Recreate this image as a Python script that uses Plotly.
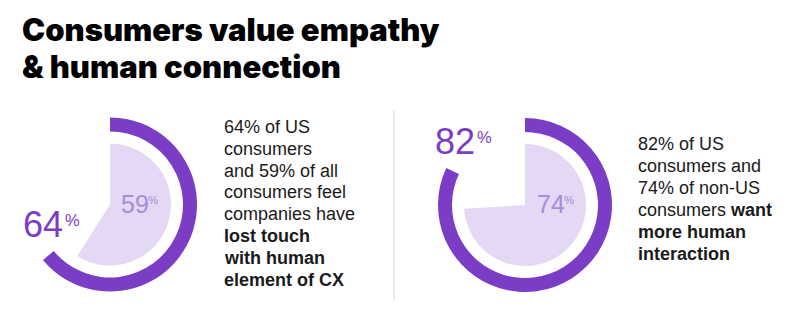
import plotly.graph_objects as go

W, H = 800, 334

title_lines = ["Consumers value empathy", "& human connection"]
outer_values = [64, 82]          # US consumers
inner_values = [59, 74]          # all / non-US consumers
desc_lines = [["64% of US", "consumers", "and 59% of all", "consumers feel", "companies have",
               "<b>lost touch</b>", "<b>with human</b>", "<b>element of CX</b>"],
              ["82% of US", "consumers and", "74% of non-US", "consumers <b>want</b>",
               "<b>more human</b>", "<b>interaction</b>"]]

PURPLE = "#7B3DC6"
LAVENDER = "#E4D8F4"
LIGHT_TXT = "#A98BDA"
TXT = "#1a1a1a"

centers = [(110, 204.5), (525, 205)]
R_OUT = 87
RING = 14
R_IN = 61

def px2dom(cx, cy, r):
    x0, x1 = (cx - r) / W, (cx + r) / W
    y0, y1 = 1 - (cy + r) / H, 1 - (cy - r) / H
    return dict(x=[x0, x1], y=[y0, y1])

fig = go.Figure()
for i, (cx, cy) in enumerate(centers):
    fig.add_trace(go.Pie(
        values=[inner_values[i], 100 - inner_values[i]],
        marker=dict(colors=[LAVENDER, "rgba(0,0,0,0)"], line=dict(width=0)),
        sort=False, direction="clockwise", rotation=0,
        textinfo="none", hoverinfo="skip", showlegend=False,
        domain=px2dom(cx, cy, R_IN)))
    fig.add_trace(go.Pie(
        values=[outer_values[i], 100 - outer_values[i]],
        marker=dict(colors=[PURPLE, "rgba(0,0,0,0)"], line=dict(width=0)),
        sort=False, direction="clockwise", rotation=0, hole=(R_OUT - RING) / R_OUT,
        textinfo="none", hoverinfo="skip", showlegend=False,
        domain=px2dom(cx, cy, R_OUT)))

ann = []
def A(x, y, text, size, color, xanchor="left", yanchor="top", family="Arimo, Liberation Sans, Arial, sans-serif", weight=None):
    f = dict(size=size, color=color, family=family)
    if weight:
        f["weight"] = weight
    ann.append(dict(x=x / W, y=1 - y / H, xref="paper", yref="paper", text=text,
                    showarrow=False, xanchor=xanchor, yanchor=yanchor, align="left",
                    font=f, borderpad=0))

# title (one annotation per line, positioned by baseline)
TS = 31
for k, (line, base) in enumerate(zip(title_lines, [41, 78])):
    A(21, base - 0.36 * TS, line, TS, "#000000", yanchor="middle",
      family="Inter, Roboto, sans-serif", weight=900)

# big numbers
big_pos = [(22, 238), (434, 155)]
small_pos = [(120, 213), (536, 213)]
for i in range(2):
    bx, by = big_pos[i]
    A(bx, by + 8, str(outer_values[i]), 36, PURPLE, yanchor="bottom")
    A(bx + 42, by - 28, "%", 16.5, PURPLE)
    sx, sy = small_pos[i]
    A(sx, sy + 6, str(inner_values[i]), 25, LIGHT_TXT, yanchor="bottom")
    A(sx + 27, sy - 20, "%", 11.5, LIGHT_TXT)

# descriptions, one annotation per line at measured baselines
DS = 18
desc_x = [223, 637]
desc_base0 = [133.3, 150]
desc_step = [21.8, 22]
for i in range(2):
    for k, line in enumerate(desc_lines[i]):
        base = desc_base0[i] + k * desc_step[i]
        A(desc_x[i], base - 0.35 * DS, line, DS, TXT, yanchor="middle")

shapes = [dict(type="line", xref="paper", yref="paper", x0=394 / W, x1=394 / W,
               y0=1 - 300 / H, y1=1 - 110 / H, line=dict(color="#D9D9D9", width=1))]

fig.update_layout(width=W, height=H, margin=dict(l=0, r=0, t=0, b=0),
                  paper_bgcolor="white", plot_bgcolor="white",
                  annotations=ann, shapes=shapes)
fig.write_html("out.html")
